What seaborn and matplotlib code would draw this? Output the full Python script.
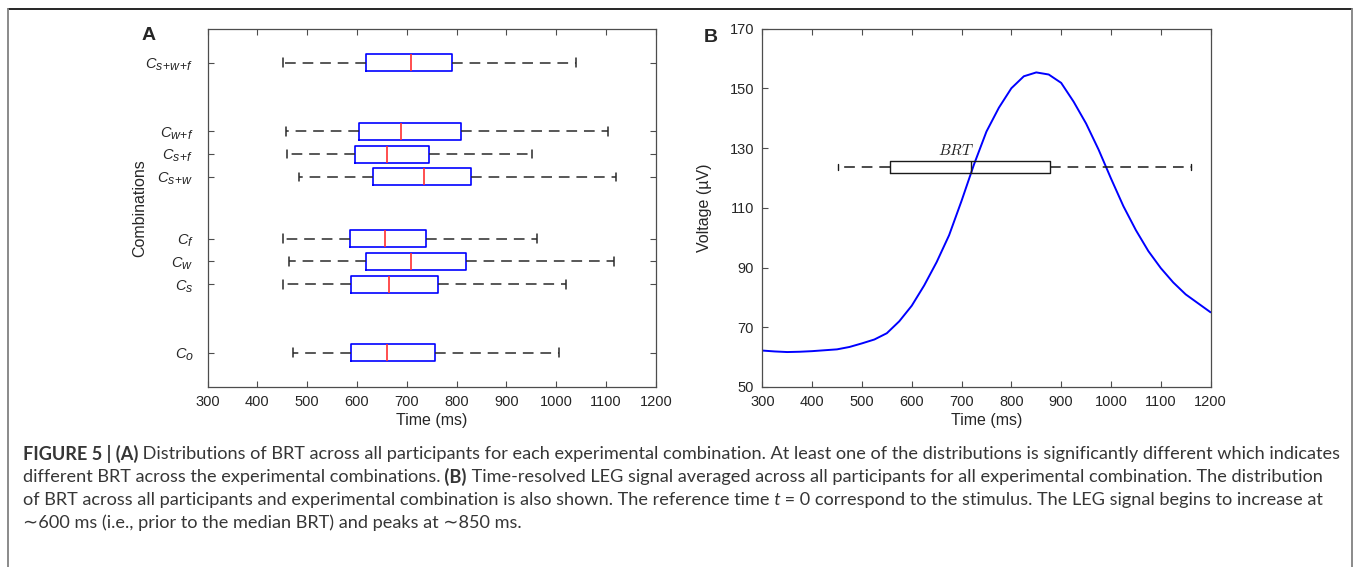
import numpy as np
import pandas as pd
import matplotlib
matplotlib.use("Agg")
import matplotlib.pyplot as plt
import matplotlib._mathtext as mathtext_mod
import seaborn as sns
from matplotlib.lines import Line2D

# panel A: BRT distributions (ms), five-number summary per combination
combo_labels = [r"$C_o$", r"$C_s$", r"$C_w$", r"$C_f$",
                r"$C_{s\!+\!w}$", r"$C_{s\!+\!f}$", r"$C_{w\!+\!f}$", r"$C_{s\!+\!w\!+\!f}$"]
combo_pos = [0, 3, 4, 5, 7.7, 8.7, 9.7, 12.7]
brt_low = [471, 451, 463, 452, 484, 460, 458, 452]
brt_q1 = [588, 588, 619, 586, 632, 597, 604, 619]
brt_med = [660, 664, 708, 656, 734, 660, 688, 708]
brt_q3 = [756, 762, 818, 738, 830, 744, 808, 791]
brt_high = [1006, 1019, 1116, 961, 1120, 952, 1105, 1040]

# panel B: averaged LEG signal (uV) and pooled BRT summary
leg_time = [300, 325, 350, 375, 400, 425, 450, 475, 500, 525, 550, 575, 600,
            625, 650, 675, 700, 725, 750, 775, 800, 825, 850, 875, 900, 925,
            950, 975, 1000, 1025, 1050, 1075, 1100, 1125, 1150, 1175, 1200]
leg_volt = [62.2, 61.9, 61.7, 61.8, 62.0, 62.3, 62.6, 63.4, 64.6, 65.9, 68.0,
            72.0, 77.2, 84.0, 91.8, 100.8, 112.3, 124.5, 135.5, 143.5, 150.0,
            154.0, 155.3, 154.6, 151.8, 145.5, 138.2, 129.5, 119.8, 110.5,
            102.5, 95.5, 89.8, 85.0, 81.0, 78.0, 75.0]
brt_all = [452, 556, 718, 877, 1161]
brt_all_level = 123.7

W, H = 1357, 567
sns.set_style("ticks")
plt.rcParams["font.family"] = ["Liberation Sans", "DejaVu Sans"]
plt.rcParams["mathtext.fontset"] = "custom"
plt.rcParams["mathtext.rm"] = "Liberation Sans"
plt.rcParams["mathtext.it"] = "Liberation Sans:italic"
plt.rcParams["mathtext.bf"] = "Liberation Sans:bold"
# MATLAB-style subscripts are only slightly smaller than the base letter
mathtext_mod.SHRINK_FACTOR = 0.85
axis_col = "#262626"

fig = plt.figure(figsize=(W / 100, H / 100), dpi=100)
axA = fig.add_axes([207.5 / W, 1 - 387 / H, 448.3 / W, 358.5 / H])
axB = fig.add_axes([762.3 / W, 1 - 387 / H, 448.3 / W, 358.5 / H])

dash = (0, (7, 4.5))

# ---- panel A
rows = []
for p, lo, q1, md, q3, hi in zip(combo_pos, brt_low, brt_q1, brt_med, brt_q3, brt_high):
    for v in (lo, q1, md, q3, hi):
        rows.append({"pos": p, "time": v})
dfA = pd.DataFrame(rows)
sns.boxplot(data=dfA, x="time", y="pos", orient="y", native_scale=True,
            whis=(0, 100), width=0.75, fill=False, color="blue", linewidth=1.2,
            whiskerprops={"color": "#2a2a2a", "linestyle": dash, "linewidth": 1.1},
            capprops={"color": "#2a2a2a", "linewidth": 1.1},
            medianprops={"color": "#ff3030", "linewidth": 1.2}, showfliers=False, ax=axA)
axA.set_xlim(300, 1200)
axA.set_ylim(-1.5, 14.2)
axA.set_yticks(combo_pos)
axA.set_yticklabels(combo_labels, fontsize=12)
axA.set_xticks(range(300, 1201, 100))
axA.set_xlabel("Time (ms)", fontsize=11.5, color=axis_col, labelpad=3)
axA.set_ylabel("Combinations", fontsize=11.5, color=axis_col)
axA.yaxis.set_label_coords(-0.135, 0.5)

# ---- panel B
sns.lineplot(x=leg_time, y=leg_volt, color="blue", linewidth=1.4, ax=axB)
dfB = pd.DataFrame({"time": brt_all, "pos": [brt_all_level] * len(brt_all)})
sns.boxplot(data=dfB, x="time", y="pos", orient="y", native_scale=True,
            whis=(0, 100), width=4.2, fill=False, color="#1a1a1a", linewidth=1.0,
            whiskerprops={"linestyle": dash, "linewidth": 1.1}, showfliers=False, ax=axB)
axB.text(688, 129.0, r"$BRT$", math_fontfamily="cm", fontsize=11,
         ha="center", va="center", color="#222222")
axB.set_xlim(300, 1200)
axB.set_ylim(50, 170)
axB.set_xticks(range(300, 1201, 100))
axB.set_yticks(range(50, 171, 20))
axB.set_xlabel("Time (ms)", fontsize=11.5, color=axis_col, labelpad=3)
axB.set_ylabel("Voltage (\u00b5V)", fontsize=11.5, color=axis_col)
axB.yaxis.set_label_coords(-0.112, 0.5)

for ax in (axA, axB):
    for s in ax.spines.values():
        s.set_visible(True)
        s.set_color("#4d4d4d")
        s.set_linewidth(0.9)
    ax.tick_params(direction="in", length=4, width=0.8, color="#4d4d4d",
                   labelcolor=axis_col, top=True, right=True, labelsize=10.5, pad=6)
axA.tick_params(axis="y", pad=10)
axB.tick_params(axis="y", right=False)

fig.text(149 / W, 1 - 35 / H, "A", fontsize=14, fontweight="bold", ha="center", va="center")
fig.text(711 / W, 1 - 37 / H, "B", fontsize=14, fontweight="bold", ha="center", va="center")

# ---- frame
fig.add_artist(Line2D([8 / W, 1352 / W], [1 - 9 / H, 1 - 9 / H], color="black", lw=1.2))
for xx in (8, 1352):
    fig.add_artist(Line2D([xx / W, xx / W], [0, 1 - 9 / H], color="#8a8a8a", lw=1.4))

# ---- caption
cap_col = "#363636"
cap_font = ["Lato", "Liberation Sans", "DejaVu Sans"]
cap_lines = [
    [("FIGURE 5 | (A)", "bold", "normal"),
     (" Distributions of BRT across all participants for each experimental combination. "
      "At least one of the distributions is significantly different which indicates", "normal", "normal")],
    [("different BRT across the experimental combinations.", "normal", "normal"),
     (" (B)", "bold", "normal"),
     (" Time-resolved LEG signal averaged across all participants for all experimental "
      "combination. The distribution", "normal", "normal")],
    [("of BRT across all participants and experimental combination is also shown. "
      "The reference time", "normal", "normal"),
     (" t", "normal", "italic"),
     (" = 0 correspond to the stimulus. The LEG signal begins to increase at", "normal", "normal")],
    [("\u223c600 ms (i.e., prior to the median BRT) and peaks at \u223c850 ms.", "normal", "normal")],
]
renderer = fig.canvas.get_renderer()


def draw_runs(runs, x0, y, size):
    x = x0
    arts = []
    for txt, wt, st in runs:
        t = fig.text(x / W, 1 - y / H, txt, fontsize=size, fontweight=wt, fontstyle=st,
                     family=cap_font, color=cap_col, ha="left", va="center")
        x += t.get_window_extent(renderer).width
        arts.append(t)
    return arts, x - x0


arts, w0 = draw_runs(cap_lines[0], 23, 454, 11)
for a in arts:
    a.remove()
cap_size = 11 * 1311 / w0
for i, runs in enumerate(cap_lines):
    draw_runs(runs, 23, 454 + 23 * i, cap_size)

fig.savefig("out.png", dpi=100)
